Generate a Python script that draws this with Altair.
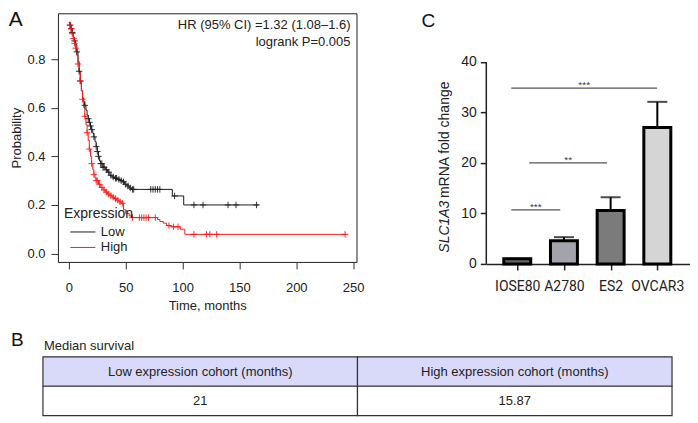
import altair as alt
import pandas as pd

FONT = "Liberation Sans"

# ---------------- Panel A: Kaplan-Meier ----------------
groups = ["Low", "High"]
group_colors = ["#1e1e1e", "#ff1a1a"]

low_t = [0, 1, 2, 3, 4, 5, 6, 7, 8, 9, 10, 11, 12, 13, 14, 15, 16, 17, 18, 19, 20,
         21, 22, 23, 24, 25, 26, 27, 28, 30, 32, 34, 36, 38, 40, 43, 45, 47, 49, 51,
         53, 55, 91, 101]
low_s = [0.951, 0.94, 0.925, 0.91, 0.89, 0.875, 0.86, 0.83, 0.79, 0.75, 0.71, 0.67,
         0.64, 0.625, 0.61, 0.59, 0.57, 0.555, 0.54, 0.525, 0.51, 0.495, 0.48, 0.46,
         0.44, 0.42, 0.40, 0.38, 0.37, 0.355, 0.345, 0.335, 0.322, 0.315, 0.31, 0.305,
         0.30, 0.295, 0.285, 0.278, 0.27, 0.264, 0.237, 0.20]
low_end = 167
low_cens = [1, 2, 3, 5, 7, 9, 10, 14, 17, 18, 19, 20, 22, 24, 25, 26, 28, 29, 30, 31,
            33, 35, 37, 39, 41, 42, 44, 46, 48, 50, 52, 54, 56, 57, 72, 74, 76, 78, 80,
            93, 110, 118, 140, 147, 165]

high_t = [0, 1, 2, 3, 4, 5, 6, 7, 8, 9, 10, 11, 12, 13, 14, 15, 16, 17, 18, 19, 20,
          21, 22, 23, 24, 26, 28, 30, 32, 34, 36, 38, 40, 42, 44, 46, 48, 50, 53, 55,
          78, 80, 83, 86, 90, 98, 102]
high_s = [0.951, 0.94, 0.925, 0.905, 0.885, 0.865, 0.845, 0.815, 0.78, 0.745, 0.71,
          0.67, 0.635, 0.60, 0.565, 0.53, 0.497, 0.465, 0.43, 0.40, 0.37, 0.345, 0.325,
          0.31, 0.30, 0.285, 0.272, 0.262, 0.253, 0.245, 0.238, 0.232, 0.226, 0.22,
          0.213, 0.207, 0.18, 0.165, 0.155, 0.148, 0.14, 0.132, 0.125, 0.115, 0.11,
          0.10, 0.079]
high_end = 244
high_cens = [1, 2, 3, 4, 5, 6, 8, 10, 12, 14, 16, 18, 20, 22, 24, 25, 27, 29, 31, 33,
             35, 37, 39, 41, 43, 45, 47, 56, 62, 64, 66, 68, 70, 76, 88, 92, 96, 110,
             121, 124, 130, 243]

hr_text = ["HR (95% CI) =1.32 (1.08\u20131.6)", "logrank P=0.005"]

assert len(low_t) == len(low_s) and len(high_t) == len(high_s)


def surv_at(ts, ss, t):
    v = ss[0]
    for tt, s in zip(ts, ss):
        if tt <= t:
            v = s
    return v


line_rows, cens_rows = [], []
for g, ts, ss, end, cens in [("Low", low_t, low_s, low_end, low_cens),
                             ("High", high_t, high_s, high_end, high_cens)]:
    for t, s in zip(ts, ss):
        line_rows.append({"t": t, "s": s, "g": g})
    line_rows.append({"t": end, "s": ss[-1], "g": g})
    for c in cens:
        cens_rows.append({"t": c, "s": surv_at(ts, ss, c), "g": g})
km_lines = pd.DataFrame(line_rows)
km_cens = pd.DataFrame(cens_rows)

A_W, A_H = 299, 249
xA = alt.X("t:Q", scale=alt.Scale(domain=[-9.65, 253.0], nice=False, zero=False),
           axis=alt.Axis(values=[0, 50, 100, 150, 200, 250], title="Time, months",
                         grid=False, domain=False, tickSize=7, tickColor="#333",
                         labelFontSize=13, labelColor="#222", labelPadding=13,
                         titleFontSize=13, titleFontWeight="normal", titleColor="#222",
                         titlePadding=5))
yA = alt.Y("s:Q", scale=alt.Scale(domain=[-0.0345, 0.9887], nice=False, zero=False),
           axis=alt.Axis(values=[0, 0.2, 0.4, 0.6, 0.8], format=".1f", title="Probability",
                         grid=False, domain=False, tickSize=7, tickColor="#333",
                         labelFontSize=13, labelColor="#222", labelPadding=6,
                         titleFontSize=13, titleFontWeight="normal", titleColor="#222",
                         titlePadding=3))
color_scale = alt.Scale(domain=groups, range=group_colors)

lines = alt.Chart(km_lines).mark_line(interpolate="step-after", strokeWidth=1).encode(
    x=xA, y=yA,
    color=alt.Color("g:N", scale=color_scale, sort=groups,
                    legend=alt.Legend(title="Expression", orient="none", legendX=6, legendY=194,
                                      symbolType="M-2,0L2,0", symbolSize=156,
                                      symbolStrokeWidth=1, symbolOffset=12, labelOffset=11,
                                      titleFontSize=14, titleFontWeight="normal",
                                      titleColor="#222", labelFontSize=13, labelColor="#222",
                                      rowPadding=1.5, titlePadding=4, padding=0)),
    detail="g:N")
cens = alt.Chart(km_cens).mark_point(shape="M-1,0L1,0M0,-1L0,1", size=42, strokeWidth=0.9,
                                     filled=False, opacity=1).encode(
    x="t:Q", y="s:Q", color=alt.Color("g:N", scale=color_scale, legend=None))
hr = alt.Chart(pd.DataFrame({"txt": [hr_text[0]]})).mark_text(
    align="right", baseline="middle", fontSize=13, color="#222").encode(
    text="txt:N", x=alt.value(293), y=alt.value(11.7))
lr = alt.Chart(pd.DataFrame({"txt": [hr_text[1]]})).mark_text(
    align="right", baseline="middle", fontSize=13, color="#222").encode(
    text="txt:N", x=alt.value(293), y=alt.value(28.4))
letA = alt.Chart(pd.DataFrame({"txt": ["A"]})).mark_text(
    align="left", baseline="middle", fontSize=21, color="#111").encode(
    text="txt:N", x=alt.value(-49.3), y=alt.value(7.2))

chartA = alt.layer(lines, cens, hr, lr, letA).properties(
    width=A_W, height=A_H, view=alt.ViewBackground(stroke="#222", strokeWidth=1))

# ---------------- Panel C: bar chart ----------------
cells = ["IOSE80", "A2780", "ES2", "OVCAR3"]
fold = [1.03, 4.6, 10.6, 27.0]
fold_err_top = [1.03, 5.3, 13.2, 32.1]
bar_fill = ["#666666", "#a3a3ab", "#7b7b7b", "#d5d5d5"]
sig_from = [-0.128, 0.257, -0.128]
sig_to = [2.995, 1.925, 0.92]
sig_y = [34.8, 20.0, 10.7]
sig_label = ["***", "**", "***"]
y_axis_span = [0, 40]

cdf = pd.DataFrame({"i": list(range(len(cells))), "cell": cells, "fold": fold,
                    "top": fold_err_top, "fill": bar_fill})
sdf = pd.DataFrame({"x1": sig_from, "x2": sig_to, "y": sig_y, "lab": sig_label,
                    "xm": [(a + b) / 2 for a, b in zip(sig_from, sig_to)]})

C_W, C_H = 204, 251
label_expr = "[" + ",".join("'%s'" % c for c in cells) + "][datum.value]"
xC_scale = alt.Scale(domain=[-0.663, 3.70], nice=False, zero=False, padding=0)
yC_scale = alt.Scale(domain=[0, 49.64], nice=False, padding=0)
xC = alt.X("i:Q", scale=xC_scale,
           axis=alt.Axis(values=list(range(len(cells))), labelExpr=label_expr, title=None,
                         grid=False, domainColor="#222", domainWidth=1.5, tickColor="#222",
                         tickWidth=1.5, tickSize=6, labelFontSize=14, labelFont="Roboto",
                         labelColor="#222", labelPadding=10, labelAngle=0,
                         labelOverlap=False, labelBound=False, labelFlush=False))
yC = alt.Y("fold:Q", scale=yC_scale,
           axis=alt.Axis(values=[0, 10, 20, 30, 40], title=None, grid=False, domain=False,
                         tickColor="#222", tickWidth=1.5, tickSize=6, labelFontSize=14,
                         labelColor="#222", labelPadding=4))

bars = alt.Chart(cdf).mark_bar(width=27, stroke="black", strokeWidth=3).encode(
    x=xC, y=yC, fill=alt.Fill("fill:N", scale=None))
err = alt.Chart(cdf).mark_rule(strokeWidth=2, color="black").encode(
    x="i:Q", y="fold:Q", y2="top:Q")
cap = alt.Chart(cdf).mark_tick(orient="horizontal", size=20, thickness=2, color="black").encode(
    x="i:Q", y="top:Q")
yline = alt.Chart(pd.DataFrame({"a": [y_axis_span[0]], "b": [y_axis_span[1]]})).mark_rule(
    strokeWidth=1.5, color="#222").encode(x=alt.value(0), y=alt.Y("a:Q", scale=yC_scale),
                                          y2="b:Q")
sig = alt.Chart(sdf).mark_rule(strokeWidth=1.2, color="#555").encode(
    x=alt.X("x1:Q", scale=xC_scale), x2="x2:Q", y=alt.Y("y:Q", scale=yC_scale))
stars = alt.Chart(sdf).mark_text(fontSize=10, baseline="alphabetic", color="#333").encode(
    x=alt.X("xm:Q", scale=xC_scale), y=alt.Y("y:Q", scale=yC_scale), text="lab:N")
ytitle1 = alt.Chart(pd.DataFrame({"txt": ["SLC1A3"]})).mark_text(
    angle=270, align="left", baseline="middle", fontSize=14, fontStyle="italic",
    color="#222").encode(text="txt:N", x=alt.value(-41.3), y=alt.value(239.7))
ytitle2 = alt.Chart(pd.DataFrame({"txt": ["mRNA fold change"]})).mark_text(
    angle=270, align="left", baseline="middle", fontSize=14, color="#222").encode(
    text="txt:N", x=alt.value(-41.3), y=alt.value(185))
letC = alt.Chart(pd.DataFrame({"txt": ["C"]})).mark_text(
    align="left", baseline="middle", fontSize=19, color="#111").encode(
    text="txt:N", x=alt.value(-65), y=alt.value(8))

chartC = alt.layer(bars, err, cap, yline, sig, stars, ytitle1, ytitle2, letC).properties(
    width=C_W, height=C_H, view=alt.ViewBackground(strokeWidth=0))

# ---------------- Panel B: table ----------------
tbl_header = ["Low expression cohort (months)", "High expression cohort (months)"]
tbl_values = ["21", "15.87"]
tbl_title = "Median survival"
header_fill = "#d9d9fa"

trows = []
for h, v in zip(tbl_header, tbl_values):
    trows.append({"col": h, "row": "h", "txt": h, "fill": header_fill})
    trows.append({"col": h, "row": "v", "txt": v, "fill": "#ffffff"})
tdf = pd.DataFrame(trows)

B_W, B_H = 620, 59
xB = alt.X("col:N", sort=tbl_header, axis=None,
           scale=alt.Scale(range=[-15, 615], paddingInner=0, paddingOuter=0))
yB = alt.Y("row:N", sort=["h", "v"], axis=None,
           scale=alt.Scale(paddingInner=0, paddingOuter=0))
cellsB = alt.Chart(tdf).mark_rect(stroke="#333", strokeWidth=1.2).encode(
    x=xB, y=yB, fill=alt.Fill("fill:N", scale=None))
textB = alt.Chart(tdf).mark_text(fontSize=13, color="#222").encode(
    x=xB, y=yB, text="txt:N")
titleB = alt.Chart(pd.DataFrame({"txt": [tbl_title]})).mark_text(
    align="left", baseline="middle", fontSize=13, color="#222").encode(
    text="txt:N", x=alt.value(-14), y=alt.value(-10.3))
letB = alt.Chart(pd.DataFrame({"txt": ["B"]})).mark_text(
    align="left", baseline="middle", fontSize=19, color="#111").encode(
    text="txt:N", x=alt.value(-47), y=alt.value(-17))

chartB = alt.layer(cellsB, textB, titleB, letB).properties(
    width=B_W, height=B_H, view=alt.ViewBackground(strokeWidth=0))

top = alt.hconcat(chartA, chartC, spacing=57).resolve_scale(x="independent", y="independent")
chart = alt.vconcat(top, chartB, spacing=17).properties(
    padding={"left": 0, "top": 0, "right": 0, "bottom": 0}
).configure(font=FONT).configure_view(stroke="transparent")

chart.save("out.html", embed_options={"renderer": "svg", "actions": False})
